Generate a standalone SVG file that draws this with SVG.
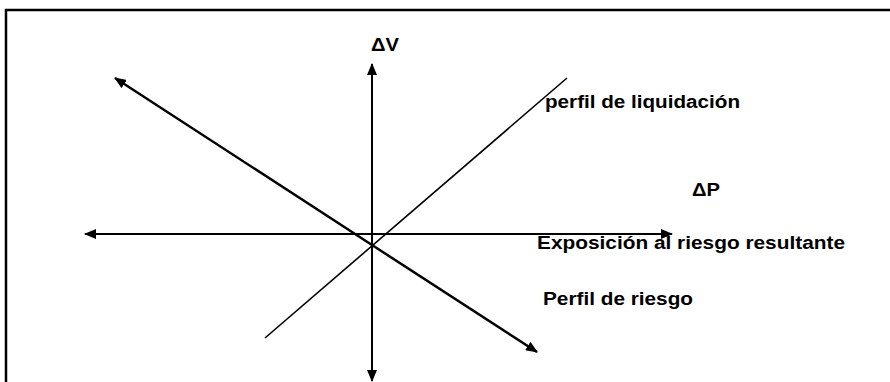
<svg xmlns="http://www.w3.org/2000/svg" width="890" height="382" viewBox="0 0 890 382">
<defs>
<marker id="ah" markerWidth="12" markerHeight="10" refX="11" refY="5" orient="auto" markerUnits="userSpaceOnUse">
<path d="M0,0 L12,5 L0,10 Z" fill="#000"/>
</marker>
<style>
.t{font-family:"Liberation Sans",Arial,sans-serif;font-weight:bold;font-size:18px;fill:#000}
.ax{stroke:#000;stroke-width:2;fill:none}
</style>
</defs>
<rect width="890" height="382" fill="#fff"/>
<g id="frame" fill="none" stroke="#000" stroke-width="2.5">
<path d="M6,382 V10 H890"/>
</g>
<g id="connectors">
<line id="vaxis-up" class="ax" x1="372" y1="234" x2="372" y2="64" marker-end="url(#ah)"/>
<line id="vaxis-down" class="ax" x1="372" y1="234" x2="372" y2="381" marker-end="url(#ah)"/>
<line id="haxis-left" class="ax" x1="372" y1="234" x2="85" y2="234" marker-end="url(#ah)"/>
<line id="haxis-right" class="ax" x1="372" y1="234" x2="672" y2="234" marker-end="url(#ah)"/>
<line id="riesgo-up" stroke="#000" stroke-width="2.5" x1="372" y1="245" x2="115" y2="78" marker-end="url(#ah)"/>
<line id="riesgo-down" stroke="#000" stroke-width="2.5" x1="372" y1="245" x2="537" y2="352" marker-end="url(#ah)"/>
<line id="liquidacion" stroke="#000" stroke-width="1.6" x1="567" y1="78" x2="265" y2="338"/>
</g>
<g id="label-dv"><text class="t" x="371" y="51" textLength="28" lengthAdjust="spacingAndGlyphs">ΔV</text></g>
<g id="label-liq"><text class="t" x="545" y="108" textLength="195" lengthAdjust="spacingAndGlyphs">perfil de liquidación</text></g>
<g id="label-dp"><text class="t" x="692" y="196" textLength="28" lengthAdjust="spacingAndGlyphs">ΔP</text></g>
<g id="label-exp"><text class="t" x="537" y="249" textLength="308" lengthAdjust="spacingAndGlyphs">Exposición al riesgo resultante</text></g>
<g id="label-perfil"><text class="t" x="543" y="305" textLength="150" lengthAdjust="spacingAndGlyphs">Perfil de riesgo</text></g>
</svg>
